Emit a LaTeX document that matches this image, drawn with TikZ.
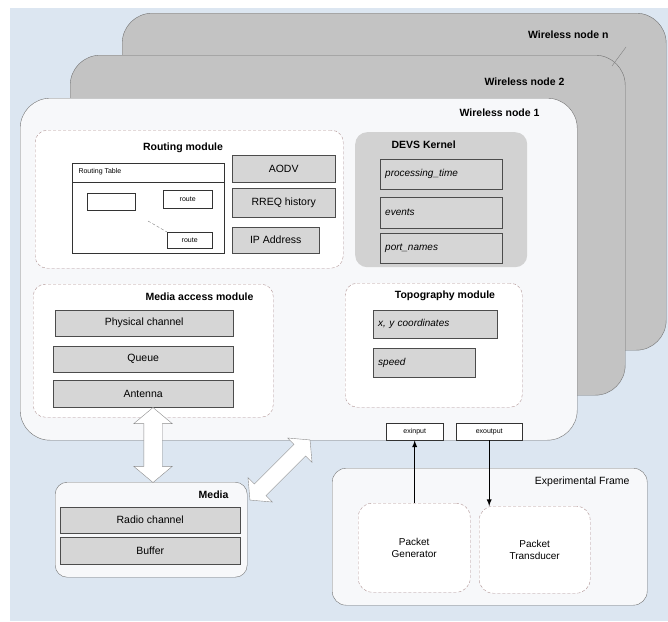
\documentclass[tikz,border=0pt]{standalone}
\usepackage{fontspec}
\setmainfont{Liberation Sans}
\usepackage{tikz}
\usetikzlibrary{positioning}
\usetikzlibrary{arrows}
\usetikzlibrary{shapes.arrows}

\definecolor{bgblue}{HTML}{DCE6F1}
\definecolor{layergray}{HTML}{C3C3C3}
\definecolor{itemgray}{HTML}{D6D6D6}
\definecolor{kernelgray}{HTML}{D2D2D2}
\definecolor{dashred}{HTML}{B09494}
\definecolor{paper}{HTML}{F7F8FA}

\tikzset{
	sz/.style 2 args={minimum width=#1, minimum height=#2},
	layer/.style={draw=black!55, fill=layergray, rounded corners=30pt, anchor=north west, inner sep=0pt},
	module/.style={draw=dashred, dash pattern=on 3pt off 2pt, fill=white, rounded corners=12pt, anchor=north west, inner sep=0pt},
	item/.style={draw=black!70, fill=itemgray, anchor=north west, inner sep=0pt, font=\fontsize{10.5}{12}\selectfont},
	itemit/.style={item, align=left, inner xsep=5pt, font=\itshape\fontsize{10}{12}\selectfont},
	plain/.style={draw=black!80, fill=white, anchor=north west, inner sep=0pt},
	title/.style={font=\bfseries\fontsize{10.5}{12}\selectfont},
	small/.style={font=\fontsize{7}{8}\selectfont},
	hollow/.style={double arrow, draw=black!45, fill=white, inner sep=9pt, double arrow head extend=10pt, double arrow tip angle=100}
}

\begin{document}
\begin{tikzpicture}[x=1pt, y=-1pt]
		\useasboundingbox (0,0) rectangle (668,621);
		\fill[bgblue] (10,8) rectangle (668,621);
		\node (wnn) [layer, sz={544pt}{337pt}] at (122,13) {};
		\node (wnnt) [title, anchor=east] at (612,35) {Wireless node n};
		\node (wn2) [layer, sz={555pt}{340pt}] at (70,55) {};
		\node (wn2t) [title, anchor=east] at (568,82) {Wireless node 2};
		\coordinate (tick1) at (626,47);
		\coordinate (tick2) at (612,66);
		\draw[black!50] (tick1) -- (tick2);
		\node (wn1) [layer, fill=paper, sz={557pt}{342pt}] at (20,98) {};
		\node (wn1t) [title, anchor=east] at (543,113) {Wireless node 1};

		\node (rm) [module, sz={308pt}{138pt}] at (35,130) {};
		\node (rmt) [title] at (183,148) {Routing module};
		\node (rtab) [plain, sz={152pt}{90pt}] at (72,163) {};
		\draw[black!80] ([yshift=-19pt]rtab.north west) -- ([yshift=-19pt]rtab.north east);
		\node (rtabt) [small, anchor=west] at (75,172) {Routing Table};
		\node (ebox) [plain, sz={48pt}{17pt}] at (87,193) {};
		\node (route1) [plain, small, sz={49pt}{18pt}] at (163,190) {route};
		\node (route2) [plain, small, sz={45pt}{16pt}] at (167,232) {route};
		\coordinate (dots) at (148,221);
		\draw[black!50, densely dashed] (dots) -- (route2.north west);
		\node (aodv) [item, sz={103pt}{27pt}] at (232,155) {AODV};
		\node (rreq) [item, sz={103pt}{29pt}] at (232,188) {RREQ history};
		\node (ip) [item, sz={87pt}{26pt}] at (232,227) {IP Address};

		\node (dk) [fill=kernelgray, rounded corners=12pt, anchor=north west, inner sep=0pt, sz={172pt}{135pt}] at (355,132) {};
		\node (dkt) [title, anchor=west] at (388,145) {DEVS Kernel};
		\node (pt) [itemit, text width=112pt, minimum height=30pt] at (380,159) {processing\_time};
		\node (ev) [itemit, text width=112pt, minimum height=31pt] at (380,197) {events};
		\node (pn) [itemit, text width=112pt, minimum height=30pt] at (380,233) {port\_names};

		\node (mam) [module, sz={240pt}{133pt}] at (33,284) {};
		\node (mamt) [title, anchor=east] at (257,297) {Media access module};
		\node (phy) [item, sz={178pt}{26pt}] at (55,310) {Physical channel};
		\node (que) [item, sz={180pt}{26pt}] at (53,346) {Queue};
		\node (ant) [item, sz={180pt}{27pt}] at (53,380) {Antenna};

		\node (tm) [module, sz={177pt}{124pt}] at (345,283) {};
		\node (tmt) [title] at (445,296) {Topography module};
		\node (xy) [itemit, text width=114pt, minimum height=28pt] at (373,310) {x, y coordinates};
		\node (spd) [itemit, text width=92pt, minimum height=29pt] at (373,348) {speed};

		\node (inp) [plain, small, sz={57pt}{17pt}] at (386,423) {exinput};
		\node (outp) [plain, small, sz={66pt}{17pt}] at (456,423) {exoutput};

		\node (media) [layer, fill=paper, rounded corners=12pt, sz={192pt}{95pt}] at (55,482) {};
		\node (mediat) [title, anchor=east] at (232,495) {Media};
		\node (radio) [item, sz={180pt}{26pt}] at (60,507) {Radio channel};
		\node (buf) [item, sz={180pt}{27pt}] at (60,537) {Buffer};

		\node (ef) [layer, fill=paper, rounded corners=14pt, sz={315pt}{137pt}] at (332,468) {};
		\node (eft) [anchor=east, font=\fontsize{10.5}{12}\selectfont] at (633,482) {Experimental Frame};
		\node (gen) [module, rounded corners=14pt, align=center, font=\fontsize{10}{12}\selectfont, sz={112pt}{89pt}] at (358,503) {Packet\\Generator};
		\node (trans) [module, rounded corners=14pt, align=center, font=\fontsize{10}{12}\selectfont, sz={111pt}{87pt}] at (479,506) {Packet\\Transducer};

		\node (arr1) [hollow, rotate=90, minimum height=75pt] at (153,445) {};
		\node (arr2) [hollow, rotate=45, minimum height=85pt, inner sep=8pt, double arrow head extend=9pt] at (280,470) {};

		\draw[-latex, line width=1.3pt] (gen.north -| inp.south) -- (inp.south);
		\draw[-latex, line width=1.3pt] (outp.south) -- (outp.south |- trans.north);
		\end{tikzpicture}
\end{document}
